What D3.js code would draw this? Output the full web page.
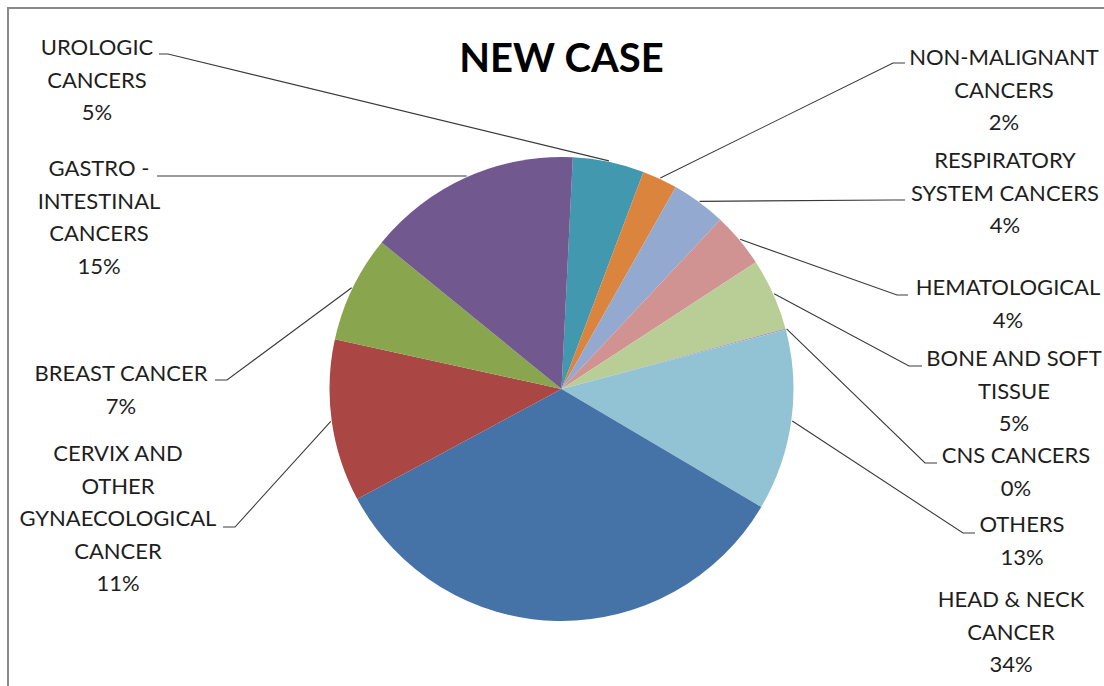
<!DOCTYPE html>
<html>
<head>
<meta charset="utf-8">
<script src="https://cdn.jsdelivr.net/npm/d3@7"></script>
<style>
  html, body { margin: 0; padding: 0; background: #fff; }
  svg { display: block; }
  text { font-family: Lato, "Open Sans", sans-serif; }
</style>
</head>
<body>
<svg id="chart" width="1104" height="686"></svg>
<script>
// ---- data ----
const title = "NEW CASE";
const categories = [
  "UROLOGIC CANCERS",
  "NON-MALIGNANT CANCERS",
  "RESPIRATORY SYSTEM CANCERS",
  "HEMATOLOGICAL",
  "BONE AND SOFT TISSUE",
  "CNS CANCERS",
  "OTHERS",
  "HEAD & NECK CANCER",
  "CERVIX AND OTHER GYNAECOLOGICAL CANCER",
  "BREAST CANCER",
  "GASTRO - INTESTINAL CANCERS"
];
const values = [4.97, 2.45, 3.8, 3.8, 5.0, 0.1, 12.6, 33.65, 11.3, 7.45, 14.9];
const labelLines = [
  ["UROLOGIC", "CANCERS"],
  ["NON-MALIGNANT", "CANCERS"],
  ["RESPIRATORY", "SYSTEM CANCERS"],
  ["HEMATOLOGICAL"],
  ["BONE AND SOFT", "TISSUE"],
  ["CNS CANCERS"],
  ["OTHERS"],
  ["HEAD & NECK", "CANCER"],
  ["CERVIX AND", "OTHER", "GYNAECOLOGICAL", "CANCER"],
  ["BREAST CANCER"],
  ["GASTRO -", "INTESTINAL", "CANCERS"]
];
const colors = ["#4198AF", "#DB843D", "#93A9CF", "#D19392", "#B9CD96", "#A99BBD",
                "#92C3D5", "#4572A7", "#AA4643", "#89A54E", "#71588F"];

// ---- layout (positions, not data) ----
const cx = 561.5, cy = 389, R = 232;
const startDeg = 2.8;
const lineH = 32.5;
// x: text center, y: first baseline, seg: [elbowX, elbowY, textSideX] (null = no leader)
const labelLayout = [
  { x: 97,   y: 55,  seg: [168, 54, 159] },
  { x: 1004, y: 65,  seg: [893, 63, 905] },
  { x: 1005, y: 168, seg: [893, 200, 905] },
  { x: 1008, y: 295, seg: [897, 295, 908] },
  { x: 1014, y: 366, seg: [909, 366, 922] },
  { x: 1016, y: 463, seg: [925, 463, 937] },
  { x: 1022, y: 532, seg: [963, 533, 975] },
  { x: 1011, y: 607, seg: null },
  { x: 118,  y: 461, seg: [235, 527, 223] },
  { x: 121,  y: 381, seg: [227, 380, 215] },
  { x: 99,   y: 176, seg: [300, 176, 157], straight: true }
];

const svg = d3.select("#chart");

// frame
svg.append("path")
  .attr("d", "M8,700 L8,8 L1110,8")
  .attr("fill", "none")
  .attr("stroke", "#898989")
  .attr("stroke-width", 2);

// title
svg.append("text")
  .attr("x", cx).attr("y", 72)
  .attr("text-anchor", "middle")
  .attr("font-weight", 700)
  .attr("font-size", 40)
  .attr("fill", "#000")
  .text(title);

const total = d3.sum(values);
const pie = d3.pie().sort(null).value(d => d)
  .startAngle(startDeg * Math.PI / 180)
  .endAngle(startDeg * Math.PI / 180 + 2 * Math.PI);
const arcs = pie(values);

const arc = d3.arc().innerRadius(0).outerRadius(R);
const edge = d3.arc().innerRadius(R + 1).outerRadius(R + 1);

const g = svg.append("g").attr("transform", `translate(${cx},${cy})`);
g.selectAll("path.slice")
  .data(arcs)
  .join("path")
  .attr("class", "slice")
  .attr("d", arc)
  .attr("fill", (d, i) => colors[i]);

// leader lines
const leaders = svg.append("g");
arcs.forEach((d, i) => {
  const L = labelLayout[i];
  if (!L.seg) return;
  const [ex, ey] = edge.centroid(d);
  const px = cx + ex, py = cy + ey;
  let pts;
  if (L.straight) {
    pts = [[px, L.seg[1]], [L.seg[2], L.seg[1]]];
  } else {
    pts = [[px, py], [L.seg[0], L.seg[1]], [L.seg[2], L.seg[1]]];
  }
  leaders.append("path")
    .attr("d", d3.line()(pts))
    .attr("fill", "none")
    .attr("stroke", "#3a3a3a")
    .attr("stroke-width", 1.1);
});

// labels
const labels = svg.append("g");
arcs.forEach((d, i) => {
  const L = labelLayout[i];
  const lines = labelLines[i].concat([Math.round(values[i] / total * 100) + "%"]);
  const t = labels.append("text")
    .attr("text-anchor", "middle")
    .attr("font-size", 22)
    .attr("fill", "#1e1e1e");
  lines.forEach((s, k) => {
    t.append("tspan").attr("x", L.x).attr("y", L.y + k * lineH).text(s);
  });
});
</script>
</body>
</html>
